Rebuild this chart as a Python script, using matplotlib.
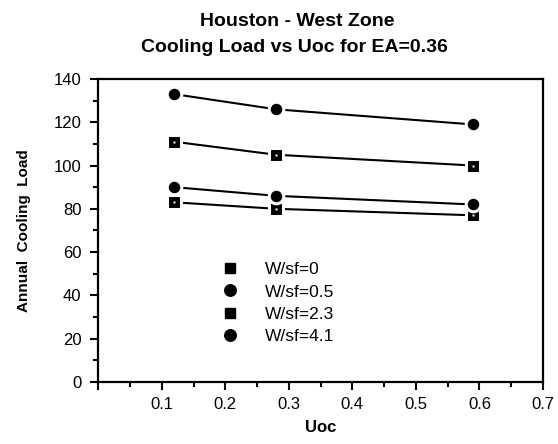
import matplotlib
matplotlib.use("Agg")
from matplotlib import pyplot as plt
from matplotlib.lines import Line2D
from matplotlib.ticker import MultipleLocator

plt.rcParams["font.family"] = ["Liberation Sans", "DejaVu Sans"]

# values
uoc = [0.12, 0.28, 0.59]
load_w0 = [83, 80, 77]
load_w05 = [90, 86, 82]
load_w23 = [111, 105, 100]
load_w41 = [133, 126, 119]

series = [
    ("W/sf=0", load_w0, "s"),
    ("W/sf=0.5", load_w05, "o"),
    ("W/sf=2.3", load_w23, "s"),
    ("W/sf=4.1", load_w41, "o"),
]

fig = plt.figure(figsize=(5.58, 4.44), dpi=100)
ax = fig.add_axes([0.176, 0.14, 0.797, 0.682])

handles = []
for label, vals, mk in series:
    ax.plot(uoc, vals, color="black", lw=1.5, zorder=2)
    ms = 9.4 if mk == "s" else 10.5
    ax.plot(uoc, vals, ls="none", marker=mk, ms=ms, mfc="black",
            mec="white", mew=2.2, zorder=3)
    if mk == "s":
        ax.plot(uoc, vals, ls="none", marker="s", ms=2, mfc="white",
                mec="none", zorder=4)
    handles.append(Line2D([], [], ls="none", marker=mk, ms=7.2 if mk == "s" else 8.3,
                          mfc="black", mec="black", label=label))

ax.set_xlim(0, 0.7)
ax.set_ylim(0, 140)
ax.xaxis.set_minor_locator(MultipleLocator(0.05))
ax.yaxis.set_major_locator(MultipleLocator(20))
ax.yaxis.set_minor_locator(MultipleLocator(10))
ax.set_xticks([0, 0.1, 0.2, 0.3, 0.4, 0.5, 0.6, 0.7])
ax.set_xticklabels(["", "0.1", "0.2", "0.3", "0.4", "0.5", "0.6", "0.7"])
ax.tick_params(which="major", direction="out", length=6, width=1.5,
               labelsize=12, pad=6)
ax.tick_params(which="minor", direction="out", length=3.5, width=1.5)
ax.tick_params(axis="x", pad=5)
for sp in ax.spines.values():
    sp.set_linewidth(1.6)

ax.set_xlabel("Uoc", fontsize=12, fontweight="bold", labelpad=6)
ax.set_ylabel("Annual  Cooling  Load", fontsize=11, fontweight="bold", labelpad=16)
fig.text(0.532, 0.952, "Houston - West Zone", ha="center", va="center",
         fontsize=14, fontweight="bold")
fig.text(0.527, 0.894, "Cooling Load vs Uoc for EA=0.36", ha="center",
         va="center", fontsize=14, fontweight="bold")

ax.legend(handles=handles, loc="upper left", bbox_to_anchor=(0.261, 0.419),
          frameon=False, fontsize=12.5, handlelength=1.0, handletextpad=1.5,
          labelspacing=0.42, borderaxespad=0)

fig.savefig("out.png", dpi=100)
